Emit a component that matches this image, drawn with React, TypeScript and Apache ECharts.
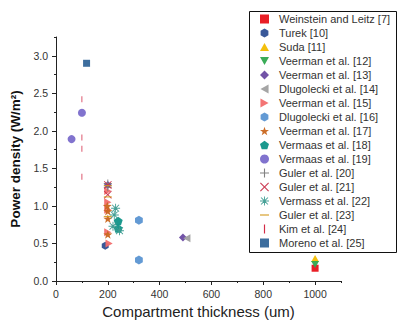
import React, { useEffect, useRef } from "react";
import * as echarts from "echarts";

const seriesNames = [
  "Weinstein and Leitz [7]",
  "Turek [10]",
  "Suda [11]",
  "Veerman et al. [12]",
  "Veerman et al. [13]",
  "Dlugolecki et al. [14]",
  "Veerman et al. [15]",
  "Dlugolecki et al. [16]",
  "Veerman et al. [17]",
  "Vermaas et al. [18]",
  "Vermaas et al. [19]",
  "Guler et al. [20]",
  "Guler et al. [21]",
  "Vermass et al. [22]",
  "Guler et al. [23]",
  "Kim et al. [24]",
  "Moreno et al. [25]",
];

const weinstein = [[1000, 0.17]];
const turek = [[190, 0.47]];
const suda = [[1000, 0.3]];
const veerman12 = [[1000, 0.22]];
const veerman13 = [[200, 1.28], [490, 0.58]];
const dlugolecki14 = [[505, 0.57]];
const veerman15 = [[200, 1.2], [200, 1.05], [200, 0.95], [200, 0.65], [205, 0.5]];
const dlugolecki16 = [[320, 0.81], [320, 0.28]];
const veerman17 = [[198, 1.0], [200, 0.93], [200, 0.83], [200, 0.62]];
const vermaas18 = [[240, 0.8], [240, 0.7]];
const vermaas19 = [[60, 1.89], [100, 2.24]];
const guler20 = [[200, 1.3], [200, 1.25]];
const guler21 = [[200, 1.28], [200, 1.15]];
const vermass22 = [[230, 0.97], [225, 0.88], [220, 0.73], [245, 0.67]];
const guler23 = [[200, 1.27], [200, 1.12], [200, 0.86]];
const kim24 = [[100, 2.42], [100, 1.91], [100, 1.76], [100, 1.39]];
const moreno25 = [[118, 2.9]];

const seriesData = [
  weinstein, turek, suda, veerman12, veerman13, dlugolecki14, veerman15,
  dlugolecki16, veerman17, vermaas18, vermaas19, guler20, guler21, vermass22,
  guler23, kim24, moreno25,
];

const xMajorTicks = [0, 200, 400, 600, 800, 1000];
const yMajorTicks = [0, 0.5, 1.0, 1.5, 2.0, 2.5, 3.0];

const HEX = "path://M5,0 L9.33,2.5 L9.33,7.5 L5,10 L0.67,7.5 L0.67,2.5 Z";
const PENT = "path://M5,0 L9.76,3.45 L7.94,9.05 L2.06,9.05 L0.24,3.45 Z";
const DOWN = "path://M0,0 L10,0 L5,9 Z";
const UP = "path://M5,0 L10,9 L0,9 Z";
const LEFT = "path://M9,0 L9,10 L0,5 Z";
const RIGHT = "path://M0,0 L0,10 L9,5 Z";
const DIAM = "path://M5,0 L10,5 L5,10 L0,5 Z";
const SQ = "path://M0,0 H10 V10 H0 Z";
const STAR = "path://M5,0 L6.18,3.38 L9.76,3.45 L6.9,5.62 L7.94,9.05 L5,7 L2.06,9.05 L3.1,5.62 L0.24,3.45 L3.82,3.38 Z";
const PLUS = "path://M4.4,0 H5.6 V4.4 H10 V5.6 H5.6 V10 H4.4 V5.6 H0 V4.4 H4.4 Z";
const CROSS = "path://M0.85,0 L5,4.15 L9.15,0 L10,0.85 L5.85,5 L10,9.15 L9.15,10 L5,5.85 L0.85,10 L0,9.15 L4.15,5 L0,0.85 Z";
const ASTER = "path://M4.5,0 H5.5 V4.5 H10 V5.5 H5.5 V10 H4.5 V5.5 H0 V4.5 H4.5 Z M1.5,0.8 L5,4.3 L8.5,0.8 L9.2,1.5 L5.7,5 L9.2,8.5 L8.5,9.2 L5,5.7 L1.5,9.2 L0.8,8.5 L4.3,5 L0.8,1.5 Z";
const HDASH = "path://M0,0 H10 V1.3 H0 Z";
const VDASH = "path://M0,0 H1.3 V10 H0 Z";

const symbols = [
  SQ, HEX, UP, DOWN, DIAM, LEFT, RIGHT, HEX, STAR, PENT,
  "circle", PLUS, CROSS, ASTER, HDASH, VDASH, SQ,
];
const sizes = [7, 8, 8, 8, 8, 8, 8, 9, 9, 9, 8, 8, 8, 9, 8, 6, 7];
const colors = [
  "#e8121a", "#2e4f94", "#f2bc00", "#2fa84f", "#6a4aa2", "#a0a0a0", "#f26d6d",
  "#5b95d2", "#c9661e", "#0f9488", "#7a6ccb", "#7a7a7a", "#c8304a", "#3c9b90",
  "#d39a1e", "#d11f3c", "#336699",
];

const FONT = "Liberation Sans, Arial, sans-serif";

export default function App() {
  const ref = useRef<HTMLDivElement>(null);
  useEffect(() => {
    if (!ref.current) return;
    const chart = echarts.init(ref.current, null, { renderer: "svg" });
    const series = seriesNames.map((name, i) => ({
      name,
      type: "scatter",
      xAxisIndex: 0,
      yAxisIndex: 0,
      data: seriesData[i],
      symbol: symbols[i],
      symbolSize: sizes[i],
      symbolKeepAspect: true,
      itemStyle: { color: colors[i], opacity: 0.95 },
    }));
    const axisText = { color: "#333", fontSize: 10.5, fontFamily: FONT };
    chart.setOption({
      animation: false,
      textStyle: { fontFamily: FONT },
      grid: { left: 41, right: 61, top: 37, bottom: 44, containLabel: false },
      xAxis: [
        {
          type: "value",
          min: 0,
          max: 1100,
          interval: 200,
          position: "bottom",
          name: "Compartment thickness (um)",
          nameLocation: "middle",
          nameGap: 23,
          nameTextStyle: { color: "#222", fontSize: 15, fontFamily: FONT },
          axisLine: { show: true, lineStyle: { color: "#222", width: 1 } },
          axisTick: { show: true, length: 4, inside: false, customValues: xMajorTicks, lineStyle: { color: "#222" } },
          axisLabel: {
            ...axisText,
            margin: 7,
            customValues: xMajorTicks,
            formatter: (v: number) => String(v),
          },
          splitLine: { show: false },
        },
        {
          type: "value",
          min: 0,
          max: 1100,
          interval: 100,
          position: "bottom",
          axisLine: { show: false },
          axisTick: { show: true, length: 2, lineStyle: { color: "#222" } },
          axisLabel: { show: false },
          splitLine: { show: false },
        },
      ],
      yAxis: [
        {
          type: "value",
          min: 0,
          max: 3.25,
          interval: 0.5,
          position: "left",
          name: "Power density (W/m²)",
          nameLocation: "middle",
          nameGap: 34,
          nameTextStyle: { color: "#111", fontSize: 13.5, fontWeight: "bold", fontFamily: FONT },
          axisLine: { show: true, lineStyle: { color: "#222", width: 1 } },
          axisTick: { show: true, length: 4, customValues: yMajorTicks, lineStyle: { color: "#222" } },
          axisLabel: {
            ...axisText,
            margin: 8,
            customValues: yMajorTicks,
            formatter: (v: number) => v.toFixed(1),
          },
          splitLine: { show: false },
        },
        {
          type: "value",
          min: 0,
          max: 3.25,
          interval: 0.25,
          position: "left",
          axisLine: { show: false },
          axisTick: { show: true, length: 2, lineStyle: { color: "#222" } },
          axisLabel: { show: false },
          splitLine: { show: false },
        },
      ],
      legend: {
        orient: "vertical",
        left: 260,
        top: 13,
        padding: 0,
        itemWidth: 9,
        itemHeight: 9,
        itemGap: 2,
        symbolKeepAspect: true,
        data: seriesNames,
        textStyle: { color: "#333", fontSize: 11, lineHeight: 12, fontFamily: FONT, padding: [0, 0, 0, 5] },
      },
      graphic: [
        {
          type: "rect",
          shape: { x: 249.5, y: 11.5, width: 147, height: 241 },
          style: { fill: "#fff", stroke: "#111", lineWidth: 1 },
          z: -1,
          silent: true,
        },
      ],
      series,
    });
    return () => chart.dispose();
  }, []);
  return (
    <div
      ref={ref}
      style={{ position: "fixed", left: 0, top: 0, width: 402, height: 325, background: "#fff" }}
    />
  );
}
